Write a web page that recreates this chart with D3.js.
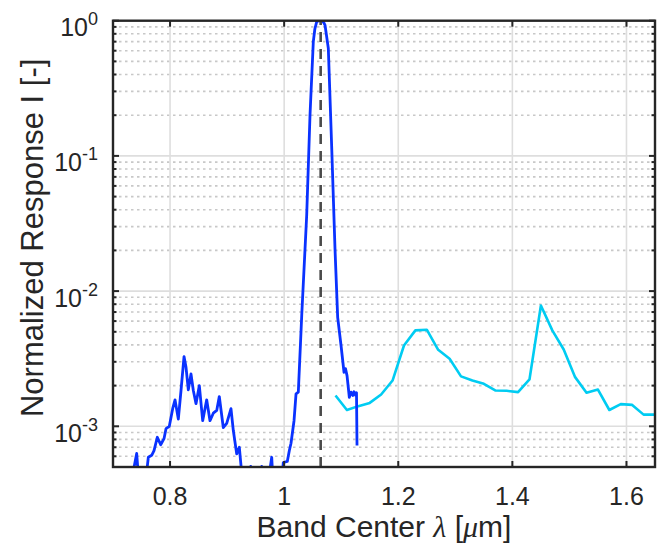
<!DOCTYPE html>
<html>
<head>
<meta charset="utf-8">
<script src="https://cdn.jsdelivr.net/npm/d3@7"></script>
<style>
  body { margin: 0; background: #fff; }
  svg { display: block; font-family: "Liberation Sans", Arial, sans-serif; }
</style>
</head>
<body>
<svg id="Target" width="662" height="546"></svg>
<script>
// blue filter response (wavelength in um, normalized response)
const blueX = [0.730, 0.7415, 0.746, 0.756, 0.7619, 0.7678, 0.7719, 0.7777, 0.7836, 0.7894,
    0.7929, 0.7987, 0.8046, 0.8087, 0.8145, 0.8192, 0.8245, 0.8280, 0.8320, 0.8367,
    0.8408, 0.8455, 0.8513, 0.8572, 0.8642, 0.8700, 0.8758, 0.8818, 0.8863, 0.8933,
    0.8993, 0.9068, 0.9109, 0.9168, 0.9214, 0.9256, 0.935, 0.9414, 0.950, 0.9607,
    0.968, 0.9782, 0.981, 0.995, 0.9985, 1.0055, 1.009, 1.012, 1.0173, 1.0208,
    1.0248, 1.0308, 1.0395, 1.0453, 1.0511, 1.0538, 1.0571, 1.0603, 1.0658, 1.0693,
    1.0716, 1.0774, 1.0834, 1.0891, 1.0938, 1.0997, 1.1049, 1.1075, 1.1102, 1.1142,
    1.1172, 1.1202, 1.1224, 1.125, 1.1268, 1.1277];
const blueY = [3.5e-4, 6.3e-4, 3.5e-4, 3.5e-4, 5.9e-4, 6.1e-4, 6.6e-4, 8.3e-4, 7.3e-4, 8.1e-4,
    9.6e-4, 1.0e-3, 1.35e-3, 1.57e-3, 1.13e-3, 1.84e-3, 3.28e-3, 2.73e-3, 1.86e-3, 2.44e-3,
    1.84e-3, 1.47e-3, 2.0e-3, 1.10e-3, 1.57e-3, 1.10e-3, 1.25e-3, 1.31e-3, 1.66e-3, 9.8e-4,
    1.05e-3, 1.35e-3, 9.3e-4, 6.25e-4, 7.0e-4, 4.5e-4, 3.0e-4, 5.05e-4, 3.0e-4, 5.05e-4,
    3.0e-4, 5.9e-4, 3.5e-4, 3.5e-4, 5.4e-4, 5.5e-4, 6.6e-4, 7.5e-4, 1.10e-3, 1.74e-3,
    1.79e-3, 6.6e-3, 3.64e-2, 0.200, 0.70, 0.868, 0.983, 1.0, 0.995, 0.97,
    0.929, 0.625, 0.1135, 0.0206, 6.4e-3, 3.96e-3, 2.51e-3, 2.67e-3, 2.37e-3, 1.64e-3,
    1.79e-3, 1.69e-3, 1.80e-3, 1.70e-3, 1.77e-3, 7.2e-4];

// cyan filter response
const cyanX = [1.09, 1.11, 1.13, 1.15, 1.17, 1.19, 1.21, 1.23, 1.25, 1.27,
    1.29, 1.31, 1.33, 1.35, 1.37, 1.39, 1.41, 1.43, 1.45, 1.47,
    1.49, 1.51, 1.53, 1.55, 1.57, 1.59, 1.61, 1.63, 1.65];
const cyanY = [1.69e-3, 1.32e-3, 1.41e-3, 1.49e-3, 1.72e-3, 2.18e-3, 3.96e-3, 5.12e-3, 5.18e-3, 3.68e-3,
    3.16e-3, 2.34e-3, 2.18e-3, 2.06e-3, 1.84e-3, 1.83e-3, 1.79e-3, 2.22e-3, 7.83e-3, 5.12e-3,
    3.70e-3, 2.31e-3, 1.77e-3, 1.87e-3, 1.32e-3, 1.46e-3, 1.44e-3, 1.22e-3, 1.22e-3];

const bandCenter = 1.064;

const xTicks = [0.8, 1.0, 1.2, 1.4, 1.6];
const xTickLabels = ["0.8", "1", "1.2", "1.4", "1.6"];
const yDecades = [1, 0.1, 0.01, 0.001];
const yExponents = ["0", "-1", "-2", "-3"];

const margin = { left: 113, top: 20.7, right: 655, bottom: 467 };
const axisColor = "#262626";

const svg = d3.select("#Target");

const x = d3.scaleLinear().domain([0.7, 1.65]).range([margin.left, margin.right]);
const y = d3.scaleLog().domain([5e-4, 1]).range([margin.bottom, margin.top]);

svg.append("defs").append("clipPath").attr("id", "plotClip")
    .append("rect")
    .attr("x", margin.left).attr("y", margin.top)
    .attr("width", margin.right - margin.left)
    .attr("height", margin.bottom - margin.top);

// minor y gridlines (dotted)
const minorVals = [];
[1e-4, 1e-3, 1e-2, 1e-1].forEach(d => {
    for (let k = 2; k <= 9; k++) {
        const v = d * k;
        if (v >= 5e-4 && v < 1) minorVals.push(v);
    }
});

const grid = svg.append("g");
grid.selectAll("line.minor")
    .data(minorVals)
    .enter()
    .append("line")
    .attr("x1", margin.left).attr("x2", margin.right)
    .attr("y1", d => y(d)).attr("y2", d => y(d))
    .attr("stroke", "#c8c8c8")
    .attr("stroke-width", 1.6)
    .attr("stroke-dasharray", "2.5,3.5");

grid.selectAll("line.majorY")
    .data(yDecades)
    .enter()
    .append("line")
    .attr("x1", margin.left).attr("x2", margin.right)
    .attr("y1", d => y(d)).attr("y2", d => y(d))
    .attr("stroke", "#dedede")
    .attr("stroke-width", 1.6);

grid.selectAll("line.majorX")
    .data(xTicks)
    .enter()
    .append("line")
    .attr("x1", d => x(d)).attr("x2", d => x(d))
    .attr("y1", margin.top).attr("y2", margin.bottom)
    .attr("stroke", "#dedede")
    .attr("stroke-width", 1.6);

// curves
const line = d3.line()
    .x(d => x(d[0]))
    .y(d => y(d[1]));

const plot = svg.append("g").attr("clip-path", "url(#plotClip)");

plot.append("path")
    .datum(cyanX.map((v, i) => [v, cyanY[i]]))
    .attr("d", line)
    .attr("fill", "none")
    .attr("stroke", "#00ccf2")
    .attr("stroke-width", 2.6)
    .attr("stroke-linejoin", "round");

plot.append("path")
    .datum(blueX.map((v, i) => [v, blueY[i]]))
    .attr("d", line)
    .attr("fill", "none")
    .attr("stroke", "#0a32ff")
    .attr("stroke-width", 2.8)
    .attr("stroke-linejoin", "round");

plot.append("line")
    .attr("x1", x(bandCenter)).attr("x2", x(bandCenter))
    .attr("y1", margin.bottom).attr("y2", margin.top)
    .attr("stroke", "#4a4a4a")
    .attr("stroke-width", 2.6)
    .attr("stroke-dasharray", "10,7");

// axes box and ticks
const axes = svg.append("g");
axes.append("rect")
    .attr("x", margin.left).attr("y", margin.top)
    .attr("width", margin.right - margin.left)
    .attr("height", margin.bottom - margin.top)
    .attr("fill", "none")
    .attr("stroke", axisColor)
    .attr("stroke-width", 2.4);

xTicks.forEach(t => {
    axes.append("line").attr("x1", x(t)).attr("x2", x(t))
        .attr("y1", margin.bottom).attr("y2", margin.bottom - 6)
        .attr("stroke", axisColor).attr("stroke-width", 2);
    axes.append("line").attr("x1", x(t)).attr("x2", x(t))
        .attr("y1", margin.top).attr("y2", margin.top + 6)
        .attr("stroke", axisColor).attr("stroke-width", 2);
});

yDecades.forEach(t => {
    axes.append("line").attr("x1", margin.left).attr("x2", margin.left + 6)
        .attr("y1", y(t)).attr("y2", y(t))
        .attr("stroke", axisColor).attr("stroke-width", 2);
    axes.append("line").attr("x1", margin.right).attr("x2", margin.right - 6)
        .attr("y1", y(t)).attr("y2", y(t))
        .attr("stroke", axisColor).attr("stroke-width", 2);
});

minorVals.forEach(t => {
    axes.append("line").attr("x1", margin.left).attr("x2", margin.left + 3.5)
        .attr("y1", y(t)).attr("y2", y(t))
        .attr("stroke", axisColor).attr("stroke-width", 2);
    axes.append("line").attr("x1", margin.right).attr("x2", margin.right - 3.5)
        .attr("y1", y(t)).attr("y2", y(t))
        .attr("stroke", axisColor).attr("stroke-width", 2);
});

// tick labels
svg.selectAll("text.xtick")
    .data(xTicks)
    .enter()
    .append("text")
    .attr("x", d => x(d))
    .attr("y", 505)
    .attr("text-anchor", "middle")
    .attr("font-size", 25)
    .attr("fill", axisColor)
    .text((d, i) => xTickLabels[i]);

const yLab = svg.selectAll("text.ytick")
    .data(yDecades)
    .enter()
    .append("text")
    .attr("x", 98)
    .attr("y", d => y(d) + 15.5)
    .attr("text-anchor", "end")
    .attr("font-size", 25)
    .attr("fill", axisColor);
yLab.append("tspan").text("10");
yLab.append("tspan")
    .attr("dy", -11)
    .attr("font-size", 18)
    .text((d, i) => yExponents[i]);

// axis titles
const xTitle = svg.append("text")
    .attr("x", (margin.left + margin.right) / 2)
    .attr("y", 537)
    .attr("text-anchor", "middle")
    .attr("font-size", 30)
    .attr("fill", axisColor);
xTitle.append("tspan").text("Band Center ");
xTitle.append("tspan").attr("font-family", "'Liberation Serif', serif").attr("font-style", "italic").text("λ");
xTitle.append("tspan").text(" [");
xTitle.append("tspan").attr("font-family", "'Liberation Serif', serif").attr("font-style", "italic").text("μ");
xTitle.append("tspan").text("m]");

svg.append("text")
    .attr("transform", `translate(43, ${(margin.top + margin.bottom) / 2 - 6}) rotate(-90)`)
    .attr("text-anchor", "middle")
    .attr("font-size", 31)
    .attr("fill", axisColor)
    .text("Normalized Response I [-]");
</script>
</body>
</html>
